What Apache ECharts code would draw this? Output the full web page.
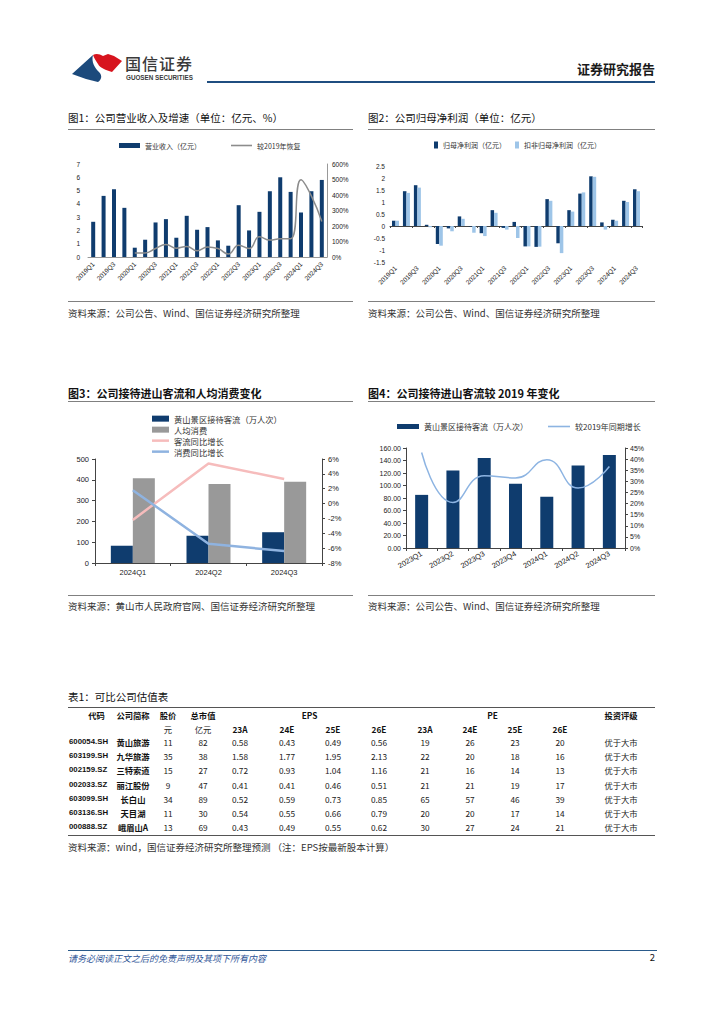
<!DOCTYPE html>
<html>
<head>
<meta charset="utf-8">
<script src="https://cdn.jsdelivr.net/npm/echarts@6/dist/echarts.min.js"></script>
<style>
html,body{margin:0;padding:0;background:#fff;}
#page{position:relative;width:724px;height:1024px;overflow:hidden;font-family:"Noto Sans CJK SC","Noto Sans",sans-serif;color:#222;}
#chart{position:absolute;left:0;top:0;width:724px;height:1024px;}
.t{position:absolute;white-space:nowrap;line-height:1;}
.r{position:absolute;height:0;}
</style>
</head>
<body>
<div id="page">
<svg style="position:absolute;left:70px;top:50px" width="56" height="36" viewBox="70 50 56 36">
  <path d="M72,74 L93,55 C91,62 95,68 99,72 C103,76 101,80 98,82 L86,79 Z" fill="#1c4a7c"/>
  <path d="M93,55 C96,53 100,54 103,56 L108,54 L114,56 L122,61 L112,72 C106,70 100,68 98,64 C96,61 94,58 93,55 Z" fill="#d7141e"/>
</svg>
<div id="chart"></div>
</div>
<script>
// ---------- DATA ----------
const quarters = ['2019Q1','2019Q2','2019Q3','2019Q4','2020Q1','2020Q2','2020Q3','2020Q4','2021Q1','2021Q2','2021Q3','2021Q4','2022Q1','2022Q2','2022Q3','2022Q4','2023Q1','2023Q2','2023Q3','2023Q4','2024Q1','2024Q2','2024Q3'];
const revenue = [2.65,4.6,5.1,3.7,0.7,1.3,2.6,2.85,1.45,3.1,2.05,2.25,1.25,0.85,3.9,2.0,3.4,4.95,6.0,4.9,3.35,4.95,5.8];
const recovery = ['-','-','-','-',26,26,55,80,57,68,41,65,55,20,76,55,130,109,118,118,498,393,229];
const netProfit = [0.22,1.45,1.7,0.05,-0.75,-0.1,0.4,-0.02,-0.3,0.66,-0.08,0.17,-0.85,-0.87,1.12,-0.72,0.66,1.35,2.07,0.15,0.26,1.05,1.53];
const netProfitDeducted = [0.22,1.38,1.6,-0.05,-0.82,-0.22,0.3,-0.28,-0.42,0.55,-0.15,-0.5,-0.85,-0.86,1.05,-1.13,0.6,1.4,2.05,-0.15,0.22,1.0,1.45];

const q3cats = ['2024Q1','2024Q2','2024Q3'];
const visitors3 = [83,131,148];
const spendPerCap = [407,380,391];
const visitorYoY = [-2.2,5.4,3.3];
const spendYoY = [1.8,-5.4,-6.4];

const q4cats = ['2023Q1','2023Q2','2023Q3','2023Q4','2024Q1','2024Q2','2024Q3'];
const visitors4 = [85,124,144,103,82,132,149];
const vs2019 = [43,20.5,32.5,31.5,39.7,27,36.7];

const tblCodes = ['600054.SH','603199.SH','002159.SZ','002033.SZ','603099.SH','603136.SH','000888.SZ'];
const tblNames = ['黄山旅游','九华旅游','三特索道','丽江股份','长白山','天目湖','峨眉山A'];
const tblPrice = [11,35,15,9,34,11,13];
const tblCap = [82,38,27,47,89,30,69];
const tblEps = [[0.58,0.43,0.49,0.56],[1.58,1.77,1.95,2.13],[0.72,0.93,1.04,1.16],[0.41,0.41,0.46,0.51],[0.52,0.59,0.73,0.85],[0.54,0.55,0.66,0.79],[0.43,0.49,0.55,0.62]];
const tblPe = [[19,26,23,20],[22,20,18,16],[21,16,14,13],[21,21,19,17],[65,57,46,39],[20,20,17,14],[30,27,24,21]];
const tblRating = ['优于大市','优于大市','优于大市','优于大市','优于大市','优于大市','优于大市'];
const tblYears = ['23A','24E','25E','26E'];

// ---------- PAGE TEXT ----------
const page = document.getElementById('page');
function txt(s, x, y, css, align){
  const d = document.createElement('div');
  d.className = 't'; d.textContent = s;
  Object.assign(d.style, css || {});
  d.style.left = x + 'px'; d.style.top = y + 'px';
  const tx = align === 'center' ? '-50%' : align === 'right' ? '-100%' : '0';
  d.style.transform = 'translate(' + tx + ',-50%)';
  page.appendChild(d);
}
function rule(x1, x2, y, w, c){
  const d = document.createElement('div');
  d.className = 'r';
  d.style.left = x1 + 'px'; d.style.width = (x2 - x1) + 'px';
  d.style.top = (y - w / 2) + 'px'; d.style.borderTop = w + 'px solid ' + c;
  page.appendChild(d);
}
txt('国信证券', 125, 63, {fontSize:'16px', fontWeight:'500', color:'#3a3a3a', letterSpacing:'1px'});
txt('GUOSEN SECURITIES', 126, 77.5, {fontSize:'6.3px', fontWeight:'700', color:'#3a3a3a', fontFamily:'"Liberation Sans",sans-serif'});
txt('证券研究报告', 655, 68, {fontSize:'13px', fontWeight:'700', color:'#1a1a1a'}, 'right');
rule(207, 655, 82, 2, '#1f4e80');

const titleCss = {fontSize:'10.5px', color:'#111'};
txt('图1：公司营业收入及增速（单位：亿元、%）', 68, 118, titleCss);
txt('图2：公司归母净利润（单位：亿元）', 368, 118, titleCss);
rule(68, 353, 130, 1.5, '#808080');
rule(368, 655, 130, 1.5, '#808080');

const srcCss = {fontSize:'9.5px', color:'#333'};
rule(68, 353, 302, 1.5, '#808080');
rule(368, 655, 302, 1.5, '#808080');
txt('资料来源：公司公告、Wind、国信证券经济研究所整理', 68, 313.5, srcCss);
txt('资料来源：公司公告、Wind、国信证券经济研究所整理', 368, 313.5, srcCss);

const title2Css = {fontSize:'11px', color:'#111', fontWeight:'700'};
txt('图3：公司接待进山客流和人均消费变化', 68, 393, title2Css);
txt('图4：公司接待进山客流较 2019 年变化', 368, 393, title2Css);
rule(68, 353, 402, 1.5, '#808080');
rule(368, 655, 402, 1.5, '#808080');
rule(68, 353, 596, 1.5, '#808080');
rule(368, 655, 596, 1.5, '#808080');
txt('资料来源：黄山市人民政府官网、国信证券经济研究所整理', 68, 607, srcCss);
txt('资料来源：公司公告、Wind、国信证券经济研究所整理', 368, 607, srcCss);

// ---------- TABLE ----------
txt('表1：可比公司估值表', 68, 697, {fontSize:'10.5px', color:'#111'});
rule(68, 655, 707.5, 1.5, '#555');
const tb = {fontSize:'8.3px', fontWeight:'700', color:'#111'};
const tr = {fontSize:'8.3px', color:'#222'};
const colPrice = 168, colCap = 203, colEps = [240,287,333,379], colPe = [425,470,515,560], colRate = 621;
const h1 = 715, h2 = 728.5, row0 = 742, rowStep = 14.2;
txt('代码', 96.5, h1, tb, 'center');
txt('公司简称', 133, h1, tb, 'center');
txt('股价', colPrice, h1, tb, 'center');
txt('总市值', colCap, h1, tb, 'center');
txt('EPS', (colEps[0] + colEps[3]) / 2, h1, tb, 'center');
txt('PE', (colPe[0] + colPe[3]) / 2, h1, tb, 'center');
txt('投资评级', colRate, h1, tb, 'center');
txt('元', colPrice, h2, tr, 'center');
txt('亿元', colCap, h2, tr, 'center');
tblYears.forEach((y, i) => { txt(y, colEps[i], h2, tb, 'center'); txt(y, colPe[i], h2, tb, 'center'); });
tblCodes.forEach((c, r) => {
  const y = row0 + r * rowStep;
  txt(c, 69, y, {fontSize:'7.8px', fontWeight:'700', color:'#111', fontFamily:'"Liberation Sans Narrow","Liberation Sans",sans-serif'});
  txt(tblNames[r], 133, y, tb, 'center');
  txt(String(tblPrice[r]), colPrice, y, tr, 'center');
  txt(String(tblCap[r]), colCap, y, tr, 'center');
  tblEps[r].forEach((v, i) => txt(v.toFixed(2), colEps[i], y, tr, 'center'));
  tblPe[r].forEach((v, i) => txt(String(v), colPe[i], y, tr, 'center'));
  txt(tblRating[r], colRate, y, tr, 'center');
});
rule(68, 655, 835.5, 1.5, '#555');
txt('资料来源：wind，国信证券经济研究所整理预测 （注：EPS按最新股本计算）', 68, 847.5, srcCss);

// ---------- FOOTER ----------
rule(68, 657, 950, 1, '#2a5a8a');
txt('请务必阅读正文之后的免责声明及其项下所有内容', 68, 958, {fontSize:'9px', fontStyle:'italic', color:'#2f5597'});
txt('2', 655, 958, {fontSize:'9.5px', color:'#111'}, 'right');

// ---------- CHARTS ----------
const dark = '#0f3c6e', light = '#9ec5e8';
const numFont = '"Liberation Sans","Noto Sans CJK SC",sans-serif';
const lab = (size, extra) => Object.assign({fontSize:size, color:'#222', fontFamily:numFont}, extra || {});
const noSplit = {show:false};
const lineIcon = (w, h) => 'path://M0,0H' + w + 'V' + h + 'H0Z';
const chart = echarts.init(document.getElementById('chart'), null, {renderer:'svg'});
chart.setOption({
  animation:false,
  textStyle:{fontFamily:'"Noto Sans CJK SC",sans-serif'},
  grid:[
    {left:88, top:164, width:239, height:93},
    {left:390, top:166, width:252, height:96},
    {left:95, top:459, width:227, height:104},
    {left:406, top:448, width:219, height:100}
  ],
  legend:[
    {left:119, top:142, padding:0, selectedMode:false, itemWidth:21, itemHeight:5, itemGap:30,
     textStyle:{fontSize:7, color:'#333'},
     data:[{name:'营业收入（亿元）', icon:'rect'}, {name:'较2019年恢复', icon:lineIcon(21, 1.6)}]},
    {left:434, top:141.5, padding:0, selectedMode:false, itemWidth:4, itemHeight:7, itemGap:9,
     textStyle:{fontSize:7, color:'#333'},
     data:[{name:'归母净利润（亿元）', icon:'rect'}, {name:'扣非归母净利润（亿元）', icon:'rect'}]},
    {left:152, top:414.5, padding:0, orient:'vertical', selectedMode:false, itemWidth:17, itemHeight:6, itemGap:2.7,
     textStyle:{fontSize:8.3, color:'#333', lineHeight:8},
     data:[{name:'黄山景区接待客流（万人次）', icon:'rect'}, {name:'人均消费', icon:'rect'},
           {name:'客流同比增长', icon:lineIcon(17, 2.5)}, {name:'消费同比增长', icon:lineIcon(17, 2.5)}]},
    {left:397, top:422.5, padding:0, selectedMode:false, itemWidth:22, itemHeight:5, itemGap:20,
     textStyle:{fontSize:8, color:'#333'},
     data:[{name:'黄山景区接待客流（万人次）', icon:'rect'}, {name:'较2019年同期增长', icon:lineIcon(22, 1.6)}]}
  ],
  xAxis:[
    {gridIndex:0, type:'category', data:quarters,
     axisLine:{lineStyle:{color:'#999'}}, axisTick:{show:false},
     axisLabel:lab(6.5, {rotate:45, interval:1, margin:6})},
    {gridIndex:1, type:'category', data:quarters,
     axisLine:{onZero:true, lineStyle:{color:'#444'}}, axisTick:{show:true, length:2, lineStyle:{color:'#444'}},
     axisLabel:lab(6.5, {rotate:45, interval:1, margin:5})},
    {gridIndex:2, type:'category', data:q3cats,
     axisLine:{lineStyle:{color:'#444'}}, axisTick:{show:true, length:3, lineStyle:{color:'#444'}},
     axisLabel:lab(7.5, {margin:6})},
    {gridIndex:3, type:'category', data:q4cats,
     axisLine:{lineStyle:{color:'#444'}}, axisTick:{show:true, length:3, lineStyle:{color:'#444'}},
     axisLabel:lab(7.5, {rotate:30, margin:5})}
  ],
  yAxis:[
    {gridIndex:0, type:'value', min:0, max:7, interval:1, splitLine:noSplit,
     axisLine:{show:false}, axisTick:{show:false}, axisLabel:lab(6.5, {margin:8})},
    {gridIndex:0, type:'value', position:'right', min:0, max:600, interval:100, splitLine:noSplit,
     axisLine:{show:true, lineStyle:{color:'#999'}}, axisTick:{show:false}, axisLabel:lab(6.5, {margin:5, formatter:'{value}%'})},
    {gridIndex:1, type:'value', min:-1.5, max:2.5, interval:0.5, splitLine:noSplit,
     axisLine:{show:false}, axisTick:{show:false}, axisLabel:lab(6.5, {margin:5})},
    {gridIndex:2, type:'value', min:0, max:500, interval:100, splitLine:noSplit,
     axisLine:{show:true, lineStyle:{color:'#444'}}, axisTick:{show:true, length:3, lineStyle:{color:'#444'}}, axisLabel:lab(7.5, {margin:6})},
    {gridIndex:2, type:'value', position:'right', min:-8, max:6, interval:2, splitLine:noSplit,
     axisLine:{show:true, lineStyle:{color:'#444'}}, axisTick:{show:true, length:3, lineStyle:{color:'#444'}}, axisLabel:lab(7.5, {margin:6, formatter:'{value}%'})},
    {gridIndex:3, type:'value', min:0, max:160, interval:20, splitLine:noSplit,
     axisLine:{show:true, lineStyle:{color:'#444'}}, axisTick:{show:true, length:3, lineStyle:{color:'#444'}}, axisLabel:lab(7, {margin:5, formatter:v => v.toFixed(2)})},
    {gridIndex:3, type:'value', position:'right', min:0, max:45, interval:5, splitLine:noSplit,
     axisLine:{show:true, lineStyle:{color:'#444'}}, axisTick:{show:true, length:3, lineStyle:{color:'#444'}}, axisLabel:lab(7, {margin:5, formatter:'{value}%'})}
  ],
  series:[
    {name:'营业收入（亿元）', type:'bar', xAxisIndex:0, yAxisIndex:0, data:revenue, barWidth:4, itemStyle:{color:dark}},
    {name:'较2019年恢复', type:'line', xAxisIndex:0, yAxisIndex:1, data:recovery, smooth:true, symbol:'none',
     lineStyle:{color:'#8c8c8c', width:1.5}, itemStyle:{color:'#8c8c8c'}},
    {name:'归母净利润（亿元）', type:'bar', xAxisIndex:1, yAxisIndex:2, data:netProfit, barWidth:3.5, barGap:'0%', itemStyle:{color:dark}},
    {name:'扣非归母净利润（亿元）', type:'bar', xAxisIndex:1, yAxisIndex:2, data:netProfitDeducted, barWidth:3.5, barGap:'0%', itemStyle:{color:light}},
    {name:'黄山景区接待客流（万人次）', type:'bar', xAxisIndex:2, yAxisIndex:3, data:visitors3, barWidth:22, barGap:'0%', itemStyle:{color:dark}},
    {name:'人均消费', type:'bar', xAxisIndex:2, yAxisIndex:3, data:spendPerCap, barWidth:22, barGap:'0%', itemStyle:{color:'#999999'}},
    {name:'客流同比增长', type:'line', xAxisIndex:2, yAxisIndex:4, data:visitorYoY, symbol:'none',
     lineStyle:{color:'#f6bcbc', width:2.5}, itemStyle:{color:'#f6bcbc'}},
    {name:'消费同比增长', type:'line', xAxisIndex:2, yAxisIndex:4, data:spendYoY, symbol:'none',
     lineStyle:{color:'#8fb3e0', width:2.5}, itemStyle:{color:'#8fb3e0'}},
    {name:'黄山景区接待客流（万人次）', type:'bar', xAxisIndex:3, yAxisIndex:5, data:visitors4, barWidth:13, itemStyle:{color:dark}},
    {name:'较2019年同期增长', type:'line', xAxisIndex:3, yAxisIndex:6, data:vs2019, smooth:true, symbol:'none',
     lineStyle:{color:'#8db4e2', width:1.5}, itemStyle:{color:'#8db4e2'}}
  ]
});
</script>
</body>
</html>
